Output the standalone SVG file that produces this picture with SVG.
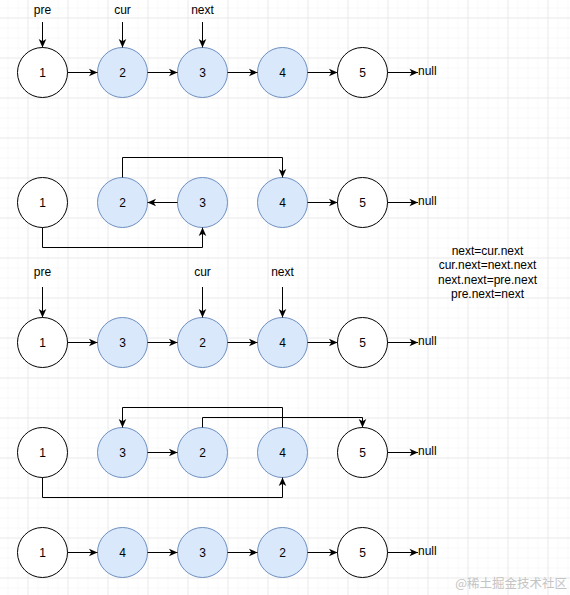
<svg xmlns="http://www.w3.org/2000/svg" width="570" height="595" viewBox="0 0 570 595">
<defs>
<pattern id="minor" x="7.5" y="7.5" width="10" height="10" patternUnits="userSpaceOnUse">
<path d="M0 0H10M0 0V10" fill="none" stroke="#f3f3f3" stroke-width="1"/>
</pattern>
<pattern id="major" x="27.5" y="17.5" width="40" height="40" patternUnits="userSpaceOnUse">
<path d="M0 0H40M0 0V40" fill="none" stroke="#dedede" stroke-width="1"/>
</pattern>
<marker id="arr" viewBox="-9 -5 10 10" refX="0" refY="0" markerWidth="10" markerHeight="10" markerUnits="userSpaceOnUse" orient="auto">
<path d="M-8.5,-3.8 L0,0 L-8.5,3.8 L-6.2,0 Z" fill="#000"/>
</marker>
<style>
text{font-family:"Liberation Sans",Arial,sans-serif;font-size:12px;fill:#000}
.w{fill:#fff;stroke:#000;stroke-width:1}
.b{fill:#dae8fc;stroke:#6c8ebf;stroke-width:1}
.n text{text-anchor:middle;dominant-baseline:central}
.c path{fill:none;stroke:#000;stroke-width:1;marker-end:url(#arr)}
.lbl{text-anchor:middle}
</style>
</defs>
<rect width="570" height="595" fill="#fff"/>
<rect width="570" height="595" fill="url(#minor)"/>
<rect width="570" height="595" fill="url(#major)"/>

<g id="row1" class="n">
<g id="r1n1"><circle class="w" cx="42.5" cy="72.5" r="25"/><text x="42.5" y="72.5">1</text></g>
<g id="r1n2"><circle class="b" cx="122.5" cy="72.5" r="25"/><text x="122.5" y="72.5">2</text></g>
<g id="r1n3"><circle class="b" cx="202.5" cy="72.5" r="25"/><text x="202.5" y="72.5">3</text></g>
<g id="r1n4"><circle class="b" cx="282.5" cy="72.5" r="25"/><text x="282.5" y="72.5">4</text></g>
<g id="r1n5"><circle class="w" cx="362.5" cy="72.5" r="25"/><text x="362.5" y="72.5">5</text></g>
</g>
<g id="row2" class="n">
<g id="r2n1"><circle class="w" cx="42.5" cy="202.5" r="25"/><text x="42.5" y="202.5">1</text></g>
<g id="r2n2"><circle class="b" cx="122.5" cy="202.5" r="25"/><text x="122.5" y="202.5">2</text></g>
<g id="r2n3"><circle class="b" cx="202.5" cy="202.5" r="25"/><text x="202.5" y="202.5">3</text></g>
<g id="r2n4"><circle class="b" cx="282.5" cy="202.5" r="25"/><text x="282.5" y="202.5">4</text></g>
<g id="r2n5"><circle class="w" cx="362.5" cy="202.5" r="25"/><text x="362.5" y="202.5">5</text></g>
</g>
<g id="row3" class="n">
<g id="r3n1"><circle class="w" cx="42.5" cy="342.5" r="25"/><text x="42.5" y="342.5">1</text></g>
<g id="r3n3"><circle class="b" cx="122.5" cy="342.5" r="25"/><text x="122.5" y="342.5">3</text></g>
<g id="r3n2"><circle class="b" cx="202.5" cy="342.5" r="25"/><text x="202.5" y="342.5">2</text></g>
<g id="r3n4"><circle class="b" cx="282.5" cy="342.5" r="25"/><text x="282.5" y="342.5">4</text></g>
<g id="r3n5"><circle class="w" cx="362.5" cy="342.5" r="25"/><text x="362.5" y="342.5">5</text></g>
</g>
<g id="row4" class="n">
<g id="r4n1"><circle class="w" cx="42.5" cy="452.5" r="25"/><text x="42.5" y="452.5">1</text></g>
<g id="r4n3"><circle class="b" cx="122.5" cy="452.5" r="25"/><text x="122.5" y="452.5">3</text></g>
<g id="r4n2"><circle class="b" cx="202.5" cy="452.5" r="25"/><text x="202.5" y="452.5">2</text></g>
<g id="r4n4"><circle class="b" cx="282.5" cy="452.5" r="25"/><text x="282.5" y="452.5">4</text></g>
<g id="r4n5"><circle class="w" cx="362.5" cy="452.5" r="25"/><text x="362.5" y="452.5">5</text></g>
</g>
<g id="row5" class="n">
<g id="r5n1"><circle class="w" cx="42.5" cy="552.5" r="25"/><text x="42.5" y="552.5">1</text></g>
<g id="r5n4"><circle class="b" cx="122.5" cy="552.5" r="25"/><text x="122.5" y="552.5">4</text></g>
<g id="r5n3"><circle class="b" cx="202.5" cy="552.5" r="25"/><text x="202.5" y="552.5">3</text></g>
<g id="r5n2"><circle class="b" cx="282.5" cy="552.5" r="25"/><text x="282.5" y="552.5">2</text></g>
<g id="r5n5"><circle class="w" cx="362.5" cy="552.5" r="25"/><text x="362.5" y="552.5">5</text></g>
</g>

<g id="labels">
<text class="lbl" x="42.5" y="14">pre</text>
<text class="lbl" x="122.5" y="14">cur</text>
<text class="lbl" x="202.5" y="14">next</text>
<text class="lbl" x="42.5" y="276">pre</text>
<text class="lbl" x="202.5" y="276">cur</text>
<text class="lbl" x="282.5" y="276">next</text>
<text x="418" y="75">null</text>
<text x="418" y="205">null</text>
<text x="418" y="345">null</text>
<text x="418" y="455">null</text>
<text x="418" y="555">null</text>
</g>

<g id="note">
<text class="lbl" x="487.5" y="255">next=cur.next</text>
<text class="lbl" x="487.5" y="269">cur.next=next.next</text>
<text class="lbl" x="487.5" y="284">next.next=pre.next</text>
<text class="lbl" x="487.5" y="298">pre.next=next</text>
</g>

<g id="connectors" class="c">
<path d="M42.5 22V47.5"/>
<path d="M122.5 22V47.5"/>
<path d="M202.5 22V47.5"/>
<path d="M67.5 72.5H97.5"/>
<path d="M147.5 72.5H177.5"/>
<path d="M227.5 72.5H257.5"/>
<path d="M307.5 72.5H337.5"/>
<path d="M387.5 72.5H418"/>

<path d="M122.5 177.5V157.5H282.5V177.5"/>
<path d="M177.5 202.5H147.5"/>
<path d="M42.5 227.5V247.5H202.5V227.5"/>
<path d="M307.5 202.5H337.5"/>
<path d="M387.5 202.5H418"/>

<path d="M42.5 287V317.5"/>
<path d="M202.5 287V317.5"/>
<path d="M282.5 287V317.5"/>
<path d="M67.5 342.5H97.5"/>
<path d="M147.5 342.5H177.5"/>
<path d="M227.5 342.5H257.5"/>
<path d="M307.5 342.5H337.5"/>
<path d="M387.5 342.5H418"/>

<path d="M282.5 427.5V407.5H122.5V427.5"/>
<path d="M202.5 427.5V417.5H362.5V427.5"/>
<path d="M147.5 452.5H177.5"/>
<path d="M42.5 477.5V497.5H282.5V477.5"/>
<path d="M387.5 452.5H418"/>

<path d="M67.5 552.5H97.5"/>
<path d="M147.5 552.5H177.5"/>
<path d="M227.5 552.5H257.5"/>
<path d="M307.5 552.5H337.5"/>
<path d="M387.5 552.5H418"/>
</g>

<text x="567" y="588" text-anchor="end" style="font-family:'Noto Sans CJK SC',sans-serif;font-size:12.5px;fill:#c4c4c4">@稀土掘金技术社区</text>
</svg>
